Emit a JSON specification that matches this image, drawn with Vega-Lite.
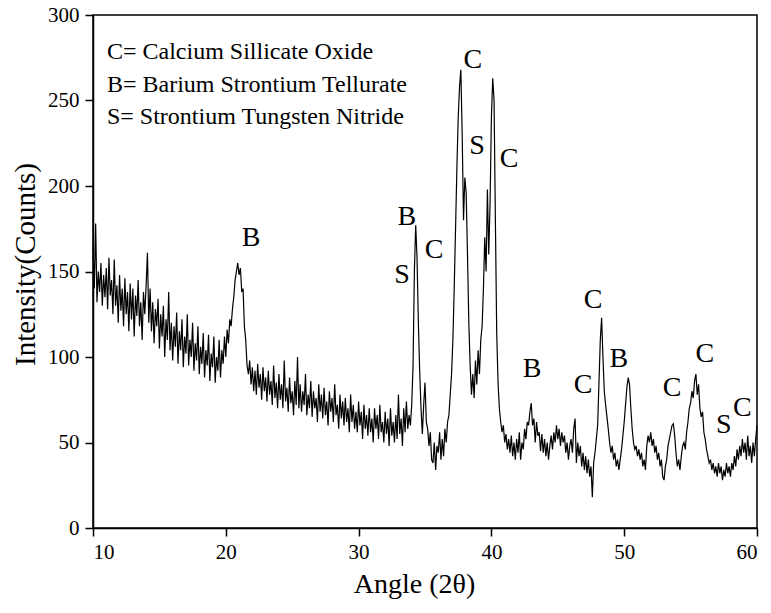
{
  "$schema": "https://vega.github.io/schema/vega-lite/v6.json",
  "width": 664,
  "height": 513,
  "autosize": {"type": "none"},
  "padding": {"left": 93, "top": 15, "right": 14, "bottom": 85},
  "background": "white",
  "datasets": {
    "xrd": [
      {"angle":10.0,"counts":165},{"angle":10.1,"counts":140},{"angle":10.2,"counts":178},{"angle":10.3,"counts":132},{"angle":10.4,"counts":150},{"angle":10.5,"counts":138},{"angle":10.6,"counts":155},{"angle":10.7,"counts":130},{"angle":10.8,"counts":148},{"angle":10.9,"counts":135},
      {"angle":11.0,"counts":152},{"angle":11.1,"counts":128},{"angle":11.2,"counts":158},{"angle":11.3,"counts":136},{"angle":11.4,"counts":145},{"angle":11.5,"counts":125},{"angle":11.6,"counts":157},{"angle":11.7,"counts":130},{"angle":11.8,"counts":142},{"angle":11.9,"counts":120},
      {"angle":12.0,"counts":148},{"angle":12.1,"counts":127},{"angle":12.2,"counts":140},{"angle":12.3,"counts":118},{"angle":12.4,"counts":146},{"angle":12.5,"counts":125},{"angle":12.6,"counts":138},{"angle":12.7,"counts":115},{"angle":12.8,"counts":143},{"angle":12.9,"counts":122},
      {"angle":13.0,"counts":140},{"angle":13.1,"counts":112},{"angle":13.2,"counts":136},{"angle":13.3,"counts":124},{"angle":13.4,"counts":145},{"angle":13.5,"counts":118},{"angle":13.6,"counts":132},{"angle":13.7,"counts":110},{"angle":13.8,"counts":138},{"angle":13.9,"counts":125},
      {"angle":14.0,"counts":142},{"angle":14.1,"counts":161},{"angle":14.2,"counts":120},{"angle":14.3,"counts":140},{"angle":14.4,"counts":115},{"angle":14.5,"counts":132},{"angle":14.6,"counts":108},{"angle":14.7,"counts":128},{"angle":14.8,"counts":118},{"angle":14.9,"counts":134},
      {"angle":15.0,"counts":105},{"angle":15.1,"counts":125},{"angle":15.2,"counts":112},{"angle":15.3,"counts":130},{"angle":15.4,"counts":100},{"angle":15.5,"counts":122},{"angle":15.6,"counts":110},{"angle":15.7,"counts":138},{"angle":15.8,"counts":104},{"angle":15.9,"counts":120},
      {"angle":16.0,"counts":98},{"angle":16.1,"counts":118},{"angle":16.2,"counts":106},{"angle":16.3,"counts":126},{"angle":16.4,"counts":96},{"angle":16.5,"counts":115},{"angle":16.6,"counts":104},{"angle":16.7,"counts":122},{"angle":16.8,"counts":94},{"angle":16.9,"counts":112},
      {"angle":17.0,"counts":102},{"angle":17.1,"counts":125},{"angle":17.2,"counts":95},{"angle":17.3,"counts":110},{"angle":17.4,"counts":100},{"angle":17.5,"counts":120},{"angle":17.6,"counts":92},{"angle":17.7,"counts":108},{"angle":17.8,"counts":98},{"angle":17.9,"counts":118},
      {"angle":18.0,"counts":90},{"angle":18.1,"counts":106},{"angle":18.2,"counts":96},{"angle":18.3,"counts":114},{"angle":18.4,"counts":88},{"angle":18.5,"counts":104},{"angle":18.6,"counts":95},{"angle":18.7,"counts":113},{"angle":18.8,"counts":86},{"angle":18.9,"counts":102},
      {"angle":19.0,"counts":94},{"angle":19.1,"counts":112},{"angle":19.2,"counts":85},{"angle":19.3,"counts":100},{"angle":19.4,"counts":92},{"angle":19.5,"counts":110},{"angle":19.6,"counts":88},{"angle":19.7,"counts":104},{"angle":19.8,"counts":96},{"angle":19.9,"counts":112},
      {"angle":20.0,"counts":100},{"angle":20.1,"counts":116},{"angle":20.2,"counts":108},{"angle":20.3,"counts":122},{"angle":20.4,"counts":118},{"angle":20.5,"counts":128},{"angle":20.6,"counts":135},{"angle":20.7,"counts":145},{"angle":20.8,"counts":150},{"angle":20.9,"counts":155},
      {"angle":21.0,"counts":148},{"angle":21.1,"counts":152},{"angle":21.2,"counts":138},{"angle":21.3,"counts":140},{"angle":21.4,"counts":118},{"angle":21.5,"counts":110},{"angle":21.6,"counts":95},{"angle":21.7,"counts":90},{"angle":21.8,"counts":98},{"angle":21.9,"counts":84},
      {"angle":22.0,"counts":94},{"angle":22.1,"counts":80},{"angle":22.2,"counts":92},{"angle":22.3,"counts":78},{"angle":22.4,"counts":96},{"angle":22.5,"counts":82},{"angle":22.6,"counts":90},{"angle":22.7,"counts":75},{"angle":22.8,"counts":94},{"angle":22.9,"counts":80},
      {"angle":23.0,"counts":88},{"angle":23.1,"counts":74},{"angle":23.2,"counts":92},{"angle":23.3,"counts":78},{"angle":23.4,"counts":86},{"angle":23.5,"counts":72},{"angle":23.6,"counts":95},{"angle":23.7,"counts":76},{"angle":23.8,"counts":85},{"angle":23.9,"counts":70},
      {"angle":24.0,"counts":90},{"angle":24.1,"counts":75},{"angle":24.2,"counts":84},{"angle":24.3,"counts":70},{"angle":24.4,"counts":98},{"angle":24.5,"counts":74},{"angle":24.6,"counts":82},{"angle":24.7,"counts":68},{"angle":24.8,"counts":88},{"angle":24.9,"counts":73},
      {"angle":25.0,"counts":80},{"angle":25.1,"counts":66},{"angle":25.2,"counts":86},{"angle":25.3,"counts":72},{"angle":25.4,"counts":100},{"angle":25.5,"counts":70},{"angle":25.6,"counts":84},{"angle":25.7,"counts":68},{"angle":25.8,"counts":80},{"angle":25.9,"counts":72},
      {"angle":26.0,"counts":90},{"angle":26.1,"counts":66},{"angle":26.2,"counts":78},{"angle":26.3,"counts":70},{"angle":26.4,"counts":86},{"angle":26.5,"counts":65},{"angle":26.6,"counts":80},{"angle":26.7,"counts":70},{"angle":26.8,"counts":76},{"angle":26.9,"counts":62},
      {"angle":27.0,"counts":84},{"angle":27.1,"counts":68},{"angle":27.2,"counts":78},{"angle":27.3,"counts":64},{"angle":27.4,"counts":82},{"angle":27.5,"counts":66},{"angle":27.6,"counts":74},{"angle":27.7,"counts":60},{"angle":27.8,"counts":80},{"angle":27.9,"counts":68},
      {"angle":28.0,"counts":76},{"angle":28.1,"counts":62},{"angle":28.2,"counts":84},{"angle":28.3,"counts":66},{"angle":28.4,"counts":72},{"angle":28.5,"counts":58},{"angle":28.6,"counts":78},{"angle":28.7,"counts":64},{"angle":28.8,"counts":74},{"angle":28.9,"counts":60},
      {"angle":29.0,"counts":76},{"angle":29.1,"counts":62},{"angle":29.2,"counts":70},{"angle":29.3,"counts":56},{"angle":29.4,"counts":78},{"angle":29.5,"counts":62},{"angle":29.6,"counts":72},{"angle":29.7,"counts":58},{"angle":29.8,"counts":68},{"angle":29.9,"counts":56},
      {"angle":30.0,"counts":74},{"angle":30.1,"counts":60},{"angle":30.2,"counts":68},{"angle":30.3,"counts":52},{"angle":30.4,"counts":72},{"angle":30.5,"counts":58},{"angle":30.6,"counts":66},{"angle":30.7,"counts":54},{"angle":30.8,"counts":70},{"angle":30.9,"counts":56},
      {"angle":31.0,"counts":64},{"angle":31.1,"counts":50},{"angle":31.2,"counts":70},{"angle":31.3,"counts":58},{"angle":31.4,"counts":66},{"angle":31.5,"counts":52},{"angle":31.6,"counts":72},{"angle":31.7,"counts":56},{"angle":31.8,"counts":62},{"angle":31.9,"counts":50},
      {"angle":32.0,"counts":68},{"angle":32.1,"counts":55},{"angle":32.2,"counts":64},{"angle":32.3,"counts":48},{"angle":32.4,"counts":70},{"angle":32.5,"counts":54},{"angle":32.6,"counts":62},{"angle":32.7,"counts":50},{"angle":32.8,"counts":66},{"angle":32.9,"counts":52},
      {"angle":33.0,"counts":78},{"angle":33.1,"counts":55},{"angle":33.2,"counts":64},{"angle":33.3,"counts":48},{"angle":33.4,"counts":70},{"angle":33.5,"counts":56},{"angle":33.6,"counts":74},{"angle":33.7,"counts":58},{"angle":33.8,"counts":66},{"angle":33.9,"counts":60},
      {"angle":34.0,"counts":72},{"angle":34.1,"counts":95},{"angle":34.2,"counts":150},{"angle":34.3,"counts":177},{"angle":34.4,"counts":158},{"angle":34.5,"counts":120},{"angle":34.6,"counts":92},{"angle":34.7,"counts":70},{"angle":34.8,"counts":55},{"angle":34.9,"counts":72},
      {"angle":35.0,"counts":85},{"angle":35.1,"counts":62},{"angle":35.2,"counts":58},{"angle":35.3,"counts":48},{"angle":35.4,"counts":56},{"angle":35.5,"counts":40},{"angle":35.6,"counts":38},{"angle":35.7,"counts":50},{"angle":35.8,"counts":34},{"angle":35.9,"counts":48},
      {"angle":36.0,"counts":44},{"angle":36.1,"counts":56},{"angle":36.2,"counts":40},{"angle":36.3,"counts":52},{"angle":36.4,"counts":42},{"angle":36.5,"counts":58},{"angle":36.6,"counts":50},{"angle":36.7,"counts":62},{"angle":36.8,"counts":66},{"angle":36.9,"counts":78},
      {"angle":37.0,"counts":90},{"angle":37.1,"counts":110},{"angle":37.2,"counts":140},{"angle":37.3,"counts":175},{"angle":37.4,"counts":210},{"angle":37.5,"counts":240},{"angle":37.6,"counts":258},{"angle":37.7,"counts":268},{"angle":37.8,"counts":230},{"angle":37.9,"counts":180},
      {"angle":38.0,"counts":205},{"angle":38.1,"counts":196},{"angle":38.2,"counts":160},{"angle":38.3,"counts":120},{"angle":38.4,"counts":95},{"angle":38.5,"counts":78},{"angle":38.6,"counts":90},{"angle":38.7,"counts":76},{"angle":38.8,"counts":98},{"angle":38.9,"counts":84},
      {"angle":39.0,"counts":104},{"angle":39.1,"counts":90},{"angle":39.2,"counts":110},{"angle":39.3,"counts":118},{"angle":39.4,"counts":140},{"angle":39.5,"counts":170},{"angle":39.6,"counts":150},{"angle":39.7,"counts":198},{"angle":39.8,"counts":160},{"angle":39.9,"counts":190},
      {"angle":40.0,"counts":240},{"angle":40.1,"counts":263},{"angle":40.2,"counts":250},{"angle":40.3,"counts":180},{"angle":40.4,"counts":114},{"angle":40.5,"counts":85},{"angle":40.6,"counts":70},{"angle":40.7,"counts":62},{"angle":40.8,"counts":56},{"angle":40.9,"counts":60},
      {"angle":41.0,"counts":50},{"angle":41.1,"counts":55},{"angle":41.2,"counts":46},{"angle":41.3,"counts":52},{"angle":41.4,"counts":44},{"angle":41.5,"counts":54},{"angle":41.6,"counts":42},{"angle":41.7,"counts":50},{"angle":41.8,"counts":40},{"angle":41.9,"counts":52},
      {"angle":42.0,"counts":44},{"angle":42.1,"counts":56},{"angle":42.2,"counts":40},{"angle":42.3,"counts":50},{"angle":42.4,"counts":46},{"angle":42.5,"counts":58},{"angle":42.6,"counts":52},{"angle":42.7,"counts":62},{"angle":42.8,"counts":60},{"angle":42.9,"counts":68},
      {"angle":43.0,"counts":73},{"angle":43.1,"counts":60},{"angle":43.2,"counts":64},{"angle":43.3,"counts":50},{"angle":43.4,"counts":62},{"angle":43.5,"counts":54},{"angle":43.6,"counts":56},{"angle":43.7,"counts":45},{"angle":43.8,"counts":55},{"angle":43.9,"counts":44},
      {"angle":44.0,"counts":52},{"angle":44.1,"counts":42},{"angle":44.2,"counts":50},{"angle":44.3,"counts":40},{"angle":44.4,"counts":48},{"angle":44.5,"counts":54},{"angle":44.6,"counts":46},{"angle":44.7,"counts":56},{"angle":44.8,"counts":50},{"angle":44.9,"counts":60},
      {"angle":45.0,"counts":52},{"angle":45.1,"counts":58},{"angle":45.2,"counts":48},{"angle":45.3,"counts":56},{"angle":45.4,"counts":50},{"angle":45.5,"counts":54},{"angle":45.6,"counts":44},{"angle":45.7,"counts":50},{"angle":45.8,"counts":40},{"angle":45.9,"counts":48},
      {"angle":46.0,"counts":52},{"angle":46.1,"counts":44},{"angle":46.2,"counts":58},{"angle":46.3,"counts":64},{"angle":46.4,"counts":38},{"angle":46.5,"counts":50},{"angle":46.6,"counts":42},{"angle":46.7,"counts":48},{"angle":46.8,"counts":36},{"angle":46.9,"counts":44},
      {"angle":47.0,"counts":34},{"angle":47.1,"counts":42},{"angle":47.2,"counts":32},{"angle":47.3,"counts":40},{"angle":47.4,"counts":30},{"angle":47.5,"counts":36},{"angle":47.6,"counts":18},{"angle":47.7,"counts":38},{"angle":47.8,"counts":44},{"angle":47.9,"counts":52},
      {"angle":48.0,"counts":60},{"angle":48.1,"counts":85},{"angle":48.2,"counts":110},{"angle":48.3,"counts":123},{"angle":48.4,"counts":100},{"angle":48.5,"counts":80},{"angle":48.6,"counts":72},{"angle":48.7,"counts":65},{"angle":48.8,"counts":58},{"angle":48.9,"counts":50},
      {"angle":49.0,"counts":44},{"angle":49.1,"counts":48},{"angle":49.2,"counts":40},{"angle":49.3,"counts":44},{"angle":49.4,"counts":36},{"angle":49.5,"counts":40},{"angle":49.6,"counts":34},{"angle":49.7,"counts":40},{"angle":49.8,"counts":46},{"angle":49.9,"counts":54},
      {"angle":50.0,"counts":62},{"angle":50.1,"counts":72},{"angle":50.2,"counts":82},{"angle":50.3,"counts":88},{"angle":50.4,"counts":84},{"angle":50.5,"counts":70},{"angle":50.6,"counts":58},{"angle":50.7,"counts":50},{"angle":50.8,"counts":46},{"angle":50.9,"counts":48},
      {"angle":51.0,"counts":42},{"angle":51.1,"counts":46},{"angle":51.2,"counts":40},{"angle":51.3,"counts":44},{"angle":51.4,"counts":36},{"angle":51.5,"counts":40},{"angle":51.6,"counts":34},{"angle":51.7,"counts":48},{"angle":51.8,"counts":54},{"angle":51.9,"counts":50},
      {"angle":52.0,"counts":56},{"angle":52.1,"counts":48},{"angle":52.2,"counts":52},{"angle":52.3,"counts":44},{"angle":52.4,"counts":48},{"angle":52.5,"counts":40},{"angle":52.6,"counts":44},{"angle":52.7,"counts":36},{"angle":52.8,"counts":40},{"angle":52.9,"counts":30},
      {"angle":53.0,"counts":28},{"angle":53.1,"counts":36},{"angle":53.2,"counts":40},{"angle":53.3,"counts":48},{"angle":53.4,"counts":52},{"angle":53.5,"counts":56},{"angle":53.6,"counts":60},{"angle":53.7,"counts":61},{"angle":53.8,"counts":54},{"angle":53.9,"counts":44},
      {"angle":54.0,"counts":36},{"angle":54.1,"counts":40},{"angle":54.2,"counts":34},{"angle":54.3,"counts":42},{"angle":54.4,"counts":48},{"angle":54.5,"counts":50},{"angle":54.6,"counts":46},{"angle":54.7,"counts":56},{"angle":54.8,"counts":62},{"angle":54.9,"counts":70},
      {"angle":55.0,"counts":73},{"angle":55.1,"counts":80},{"angle":55.2,"counts":76},{"angle":55.3,"counts":86},{"angle":55.4,"counts":90},{"angle":55.5,"counts":78},{"angle":55.6,"counts":84},{"angle":55.7,"counts":70},{"angle":55.8,"counts":65},{"angle":55.9,"counts":68},
      {"angle":56.0,"counts":56},{"angle":56.1,"counts":52},{"angle":56.2,"counts":46},{"angle":56.3,"counts":42},{"angle":56.4,"counts":38},{"angle":56.5,"counts":40},{"angle":56.6,"counts":34},{"angle":56.7,"counts":38},{"angle":56.8,"counts":32},{"angle":56.9,"counts":36},
      {"angle":57.0,"counts":30},{"angle":57.1,"counts":38},{"angle":57.2,"counts":32},{"angle":57.3,"counts":36},{"angle":57.4,"counts":28},{"angle":57.5,"counts":34},{"angle":57.6,"counts":30},{"angle":57.7,"counts":38},{"angle":57.8,"counts":32},{"angle":57.9,"counts":36},
      {"angle":58.0,"counts":30},{"angle":58.1,"counts":38},{"angle":58.2,"counts":34},{"angle":58.3,"counts":42},{"angle":58.4,"counts":36},{"angle":58.5,"counts":46},{"angle":58.6,"counts":40},{"angle":58.7,"counts":48},{"angle":58.8,"counts":42},{"angle":58.9,"counts":52},
      {"angle":59.0,"counts":44},{"angle":59.1,"counts":50},{"angle":59.2,"counts":40},{"angle":59.3,"counts":54},{"angle":59.4,"counts":42},{"angle":59.5,"counts":48},{"angle":59.6,"counts":38},{"angle":59.7,"counts":50},{"angle":59.8,"counts":42},{"angle":59.9,"counts":52},
      {"angle":60.0,"counts":60}
    ],
    "peaks": [
      {"angle":21.9,"counts":164.9,"phase":"B"},
      {"angle":33.64,"counts":177.2,"phase":"B"},
      {"angle":33.27,"counts":143.3,"phase":"S"},
      {"angle":35.68,"counts":157.9,"phase":"C"},
      {"angle":38.61,"counts":269,"phase":"C"},
      {"angle":38.92,"counts":218.7,"phase":"S"},
      {"angle":41.33,"counts":211,"phase":"C"},
      {"angle":43.06,"counts":88.3,"phase":"B"},
      {"angle":46.9,"counts":78.9,"phase":"C"},
      {"angle":47.65,"counts":128.7,"phase":"C"},
      {"angle":49.6,"counts":94.2,"phase":"B"},
      {"angle":53.6,"counts":77.2,"phase":"C"},
      {"angle":56.08,"counts":97.1,"phase":"C"},
      {"angle":57.5,"counts":55.6,"phase":"S"},
      {"angle":58.9,"counts":65.5,"phase":"C"}
    ],
    "key": [
      {"angle":11.05,"counts":274.3,"text":"C= Calcium Sillicate Oxide"},
      {"angle":11.05,"counts":255.0,"text":"B= Barium Strontium Tellurate"},
      {"angle":11.05,"counts":236.1,"text":"S= Strontium Tungsten Nitride"}
    ]
  },
  "layer": [
    {
      "data": {"name": "xrd"},
      "mark": {"type": "line", "color": "black", "strokeWidth": 1.2},
      "encoding": {
        "x": {
          "field": "angle", "type": "quantitative",
          "scale": {"domain": [10, 60], "nice": false, "zero": false},
          "axis": {"values": [10, 20, 30, 40, 50, 60], "title": "Angle (2θ)", "titleFontSize": 28, "titlePadding": 8, "labelPadding": 5, "titleX": 321}
        },
        "y": {
          "field": "counts", "type": "quantitative",
          "scale": {"domain": [0, 300], "nice": false},
          "axis": {"values": [0, 50, 100, 150, 200, 250, 300], "title": "Intensity(Counts)", "titleFontSize": 29, "titlePadding": 7, "labelPadding": 6, "titleY": 249}
        }
      }
    },
    {
      "data": {"name": "peaks"},
      "mark": {"type": "text", "fontSize": 28, "align": "center", "baseline": "alphabetic", "color": "black", "font": "Liberation Serif"},
      "encoding": {
        "x": {"field": "angle", "type": "quantitative"},
        "y": {"field": "counts", "type": "quantitative"},
        "text": {"field": "phase"}
      }
    },
    {
      "data": {"name": "key"},
      "mark": {"type": "text", "fontSize": 24, "align": "left", "baseline": "alphabetic", "color": "black", "font": "Liberation Serif"},
      "encoding": {
        "x": {"field": "angle", "type": "quantitative"},
        "y": {"field": "counts", "type": "quantitative"},
        "text": {"field": "text"}
      }
    }
  ],
  "config": {
    "font": "Liberation Serif",
    "view": {"stroke": "black", "strokeWidth": 1.5},
    "axis": {
      "grid": false,
      "domainColor": "black",
      "domainWidth": 1.5,
      "tickColor": "black",
      "tickWidth": 1.5,
      "tickSize": 8,
      "labelColor": "black",
      "labelFontSize": 21,
      "labelFont": "Liberation Serif",
      "titleFont": "Liberation Serif",
      "titleColor": "black",
      "titleFontWeight": "normal"
    }
  }
}
